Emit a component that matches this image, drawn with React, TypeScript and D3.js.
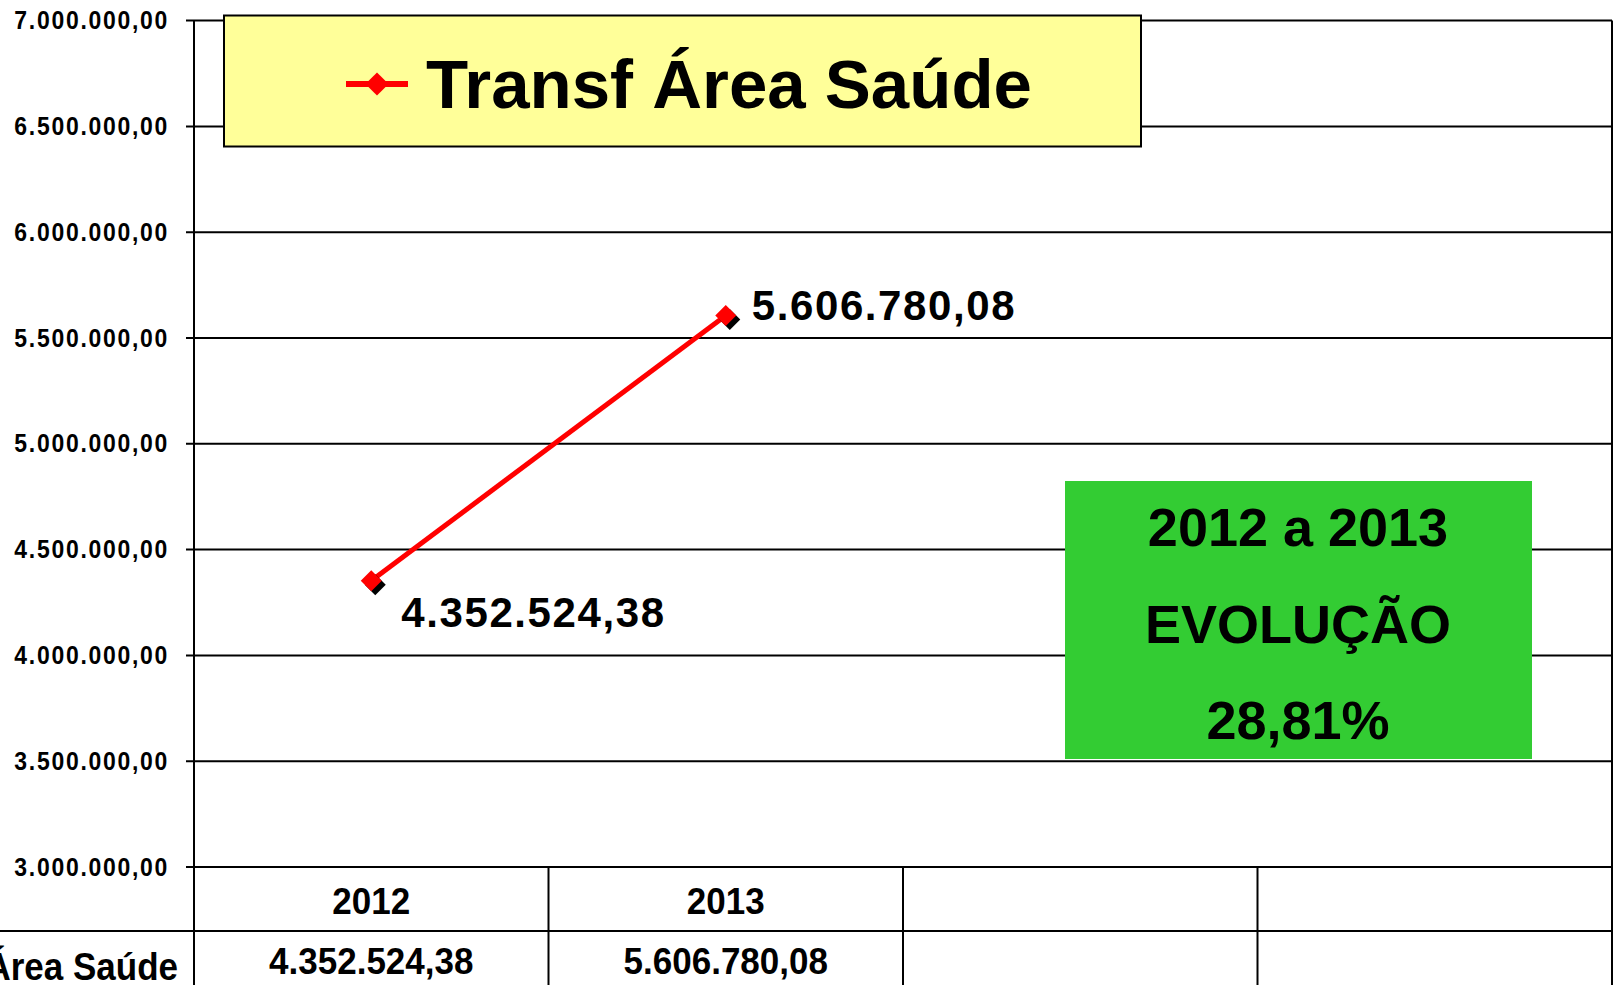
import { useEffect, useRef } from 'react'
import * as d3 from 'd3'

const seriesName = 'Transf Área Saúde'
const categories = ['2012', '2013', '', '']
const values = [4352524.38, 5606780.08]
const yTicks = [3000000, 3500000, 4000000, 4500000, 5000000, 5500000, 6000000, 6500000, 7000000]
const noteLines = ['2012 a 2013', 'EVOLUÇÃO', '28,81%']

const W = 1618
const H = 985
const PLOT = { left: 194, right: 1612, top: 20.6, bottom: 867 }
const FONT = '"Liberation Sans", Arial, sans-serif'

const br = d3.formatLocale({ decimal: ',', thousands: '.', grouping: [3], currency: ['R$', ''] })
const fmt = br.format(',.2f')

export default function App() {
  const svgRef = useRef<SVGSVGElement>(null)

  useEffect(() => {
    if (!svgRef.current) return
    const svg = d3.select(svgRef.current)
    svg.selectAll('*').remove()

    const x = d3.scaleBand<number>().domain(categories.map((_, i) => i)).range([PLOT.left, PLOT.right])
    const cx = (i: number) => (x(i) ?? 0) + x.bandwidth() / 2
    const y = d3.scaleLinear().domain([3000000, 7000000]).range([PLOT.bottom, PLOT.top])

    svg.append('rect').attr('width', W).attr('height', H).attr('fill', '#fff')

    // gridlines + tick marks
    svg.append('g')
      .selectAll('line')
      .data(yTicks)
      .join('line')
      .attr('x1', PLOT.left - 8).attr('x2', PLOT.right)
      .attr('y1', d => y(d)).attr('y2', d => y(d))
      .attr('stroke', '#000').attr('stroke-width', 2)

    // tick labels, a bit taller than wide like the original
    svg.append('g')
      .selectAll('text')
      .data(yTicks)
      .join('text')
      .attr('text-anchor', 'end')
      .attr('transform', d => `translate(169,${y(d) + 8.5}) scale(1,1.12)`)
      .style('font-family', FONT).style('font-weight', 'bold').style('font-size', '23px')
      .style('letter-spacing', '1.7px')
      .text(d => fmt(d))

    // axis + right border
    svg.append('line').attr('x1', PLOT.left).attr('x2', PLOT.left).attr('y1', PLOT.top).attr('y2', H)
      .attr('stroke', '#000').attr('stroke-width', 2)
    svg.append('line').attr('x1', PLOT.right).attr('x2', PLOT.right).attr('y1', PLOT.top).attr('y2', H)
      .attr('stroke', '#000').attr('stroke-width', 2)

    // data table
    const rowY = 931
    svg.append('line').attr('x1', 0).attr('x2', PLOT.right).attr('y1', rowY).attr('y2', rowY)
      .attr('stroke', '#000').attr('stroke-width', 2)
    svg.append('g')
      .selectAll('line')
      .data(categories.slice(1))
      .join('line')
      .attr('x1', (_, i) => x(i + 1) ?? 0).attr('x2', (_, i) => x(i + 1) ?? 0)
      .attr('y1', PLOT.bottom).attr('y2', H)
      .attr('stroke', '#000').attr('stroke-width', 2)

    const tbl = svg.append('g').style('font-family', FONT).style('font-weight', 'bold').style('font-size', '35px')
    tbl.selectAll('text.cat')
      .data(categories)
      .join('text')
      .attr('class', 'cat')
      .attr('text-anchor', 'middle')
      .attr('transform', (_, i) => `translate(${cx(i)},914) scale(1,1.06)`)
      .text(d => d)
    tbl.selectAll('text.val')
      .data(values)
      .join('text')
      .attr('class', 'val')
      .attr('text-anchor', 'middle')
      .attr('transform', (_, i) => `translate(${cx(i)},974) scale(1,1.06)`)
      .text(d => fmt(d))
    tbl.append('text')
      .attr('text-anchor', 'end')
      .attr('transform', 'translate(178,980) scale(1,1.1)')
      .text(seriesName)

    // legend box
    svg.append('rect').attr('x', 224).attr('y', 15.5).attr('width', 917).attr('height', 131)
      .attr('fill', '#FFFF99').attr('stroke', '#000').attr('stroke-width', 2)
    svg.append('line').attr('x1', 346).attr('x2', 408).attr('y1', 84).attr('y2', 84)
      .attr('stroke', '#FF0000').attr('stroke-width', 6)
    svg.append('path').attr('d', d3.symbol(d3.symbolSquare, 270)()!)
      .attr('transform', 'translate(377,84) rotate(45)').attr('fill', '#FF0000')
    svg.append('text').attr('x', 426).attr('y', 108)
      .style('font-family', FONT).style('font-weight', 'bold').style('font-size', '69px')
      .text(seriesName)

    // series line
    const line = d3.line<number>().x((_, i) => cx(i)).y(d => y(d))
    svg.append('path').datum(values).attr('d', line)
      .attr('fill', 'none').attr('stroke', '#FF0000').attr('stroke-width', 5)

    const marker = d3.symbol(d3.symbolSquare, 220)()!
    svg.append('g').selectAll('path')
      .data(values)
      .join('path')
      .attr('d', marker)
      .attr('transform', (d, i) => `translate(${cx(i) + 4},${y(d) + 4}) rotate(45)`)
      .attr('fill', '#000')
    svg.append('g').selectAll('path')
      .data(values)
      .join('path')
      .attr('d', marker)
      .attr('transform', (d, i) => `translate(${cx(i)},${y(d)}) rotate(45)`)
      .attr('fill', '#FF0000')

    // point labels
    const offsets = [{ dx: 30, dy: 46 }, { dx: 26, dy: 5 }]
    svg.append('g').selectAll('text')
      .data(values)
      .join('text')
      .attr('x', (_, i) => cx(i) + offsets[i].dx)
      .attr('y', (d, i) => y(d) + offsets[i].dy)
      .style('font-family', FONT).style('font-weight', 'bold').style('font-size', '42px')
      .style('letter-spacing', '1.6px')
      .text(d => fmt(d))

    // evolution note
    svg.append('rect').attr('x', 1065).attr('y', 481).attr('width', 467).attr('height', 278)
      .attr('fill', '#33CC33')
    svg.append('g').selectAll('text')
      .data(noteLines)
      .join('text')
      .attr('x', 1298).attr('y', (_, i) => 546 + i * 96.5)
      .attr('text-anchor', 'middle')
      .style('font-family', FONT).style('font-weight', 'bold').style('font-size', '54px')
      .text(d => d)
  }, [])

  return (
    <svg ref={svgRef} width={W} height={H} style={{ position: 'fixed', left: 0, top: 0 }} />
  )
}
